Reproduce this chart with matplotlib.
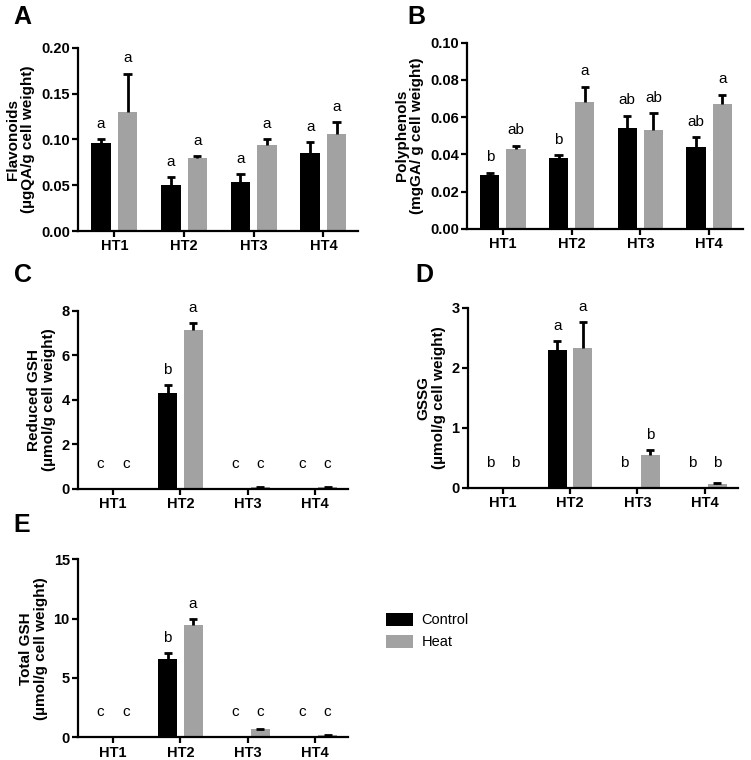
import matplotlib
matplotlib.use('Agg')
import matplotlib.pyplot as plt
from matplotlib.patches import Patch
import numpy as np

plt.rcParams['font.family'] = ['Liberation Sans', 'DejaVu Sans']
plt.rcParams['font.size'] = 10

groups = ['HT1', 'HT2', 'HT3', 'HT4']
series = ['Control', 'Heat']

# panel A - flavonoids
flav_ctrl = [0.096, 0.050, 0.054, 0.085]
flav_ctrl_err = [0.004, 0.009, 0.008, 0.012]
flav_heat = [0.130, 0.080, 0.094, 0.106]
flav_heat_err = [0.042, 0.002, 0.006, 0.013]
flav_letters = [['a', 'a', 'a', 'a'], ['a', 'a', 'a', 'a']]

# panel B - polyphenols
poly_ctrl = [0.029, 0.038, 0.054, 0.044]
poly_ctrl_err = [0.0012, 0.0016, 0.0067, 0.0052]
poly_heat = [0.043, 0.068, 0.053, 0.067]
poly_heat_err = [0.0016, 0.0082, 0.009, 0.005]
poly_letters = [['b', 'b', 'ab', 'ab'], ['ab', 'a', 'ab', 'a']]

# panel C - reduced GSH
rgsh_ctrl = [0.0, 4.29, 0.0, 0.0]
rgsh_ctrl_err = [0.0, 0.37, 0.0, 0.0]
rgsh_heat = [0.0, 7.16, 0.07, 0.07]
rgsh_heat_err = [0.0, 0.30, 0.02, 0.02]
rgsh_letters = [['c', 'b', 'c', 'c'], ['c', 'a', 'c', 'c']]

# panel D - GSSG
gssg_ctrl = [0.0, 2.29, 0.01, 0.0]
gssg_ctrl_err = [0.0, 0.15, 0.0, 0.0]
gssg_heat = [0.0, 2.33, 0.54, 0.067]
gssg_heat_err = [0.0, 0.43, 0.09, 0.016]
gssg_letters = [['b', 'a', 'b', 'b'], ['b', 'a', 'b', 'b']]

# panel E - total GSH
tgsh_ctrl = [0.0, 6.59, 0.05, 0.0]
tgsh_ctrl_err = [0.0, 0.53, 0.0, 0.0]
tgsh_heat = [0.0, 9.50, 0.67, 0.17]
tgsh_heat_err = [0.0, 0.50, 0.06, 0.03]
tgsh_letters = [['c', 'b', 'c', 'c'], ['c', 'a', 'c', 'c']]

colors = ['#000000', '#a2a2a2']

fig = plt.figure(figsize=(7.51, 7.6), dpi=100)

def panel(rect, ctrl, ctrl_err, heat, heat_err, letters, ymax, step, fmt, ylabel, tag, tagpos):
    ax = fig.add_axes(rect)
    x = np.arange(len(groups))
    w = 0.28
    off = 0.19
    for k, (vals, errs) in enumerate([(ctrl, ctrl_err), (heat, heat_err)]):
        vals = np.array(vals)
        errs = np.array(errs)
        xs = x + (k * 2 - 1) * off
        ax.bar(xs, vals, width=w, color=colors[k], zorder=2)
        top = vals + errs
        m = errs > 0
        ax.vlines(xs[m], vals[m], top[m], color='black', lw=2, zorder=3)
        ax.hlines(top[m], xs[m] - 0.06, xs[m] + 0.06, color='black', lw=2, zorder=3)
        for xi, t, lab in zip(xs, top, letters[k]):
            yl = max(t + 0.045 * ymax, 0.1 * ymax)
            ax.text(xi, yl, lab, ha='center', va='bottom', fontsize=11)
    ax.set_xlim(-0.52, 3.5)
    ax.set_ylim(0, ymax)
    ax.set_yticks(np.arange(0, ymax + step / 2, step))
    ax.set_yticklabels([fmt.format(v) for v in np.arange(0, ymax + step / 2, step)],
                       fontweight='bold', fontsize=10.5)
    ax.set_xticks(x)
    ax.set_xticklabels(groups, fontweight='bold', fontsize=10.5)
    ax.spines['top'].set_visible(False)
    ax.spines['right'].set_visible(False)
    ax.spines['left'].set_linewidth(1.6)
    ax.spines['bottom'].set_linewidth(1.6)
    ax.tick_params(axis='both', width=1.6, length=4, pad=2)
    ax.set_ylabel(ylabel, fontweight='bold', fontsize=11, linespacing=1.1)
    fig.text(tagpos[0], tagpos[1], tag, fontsize=18, fontweight='bold', va='center', ha='left')
    return ax

panel([0.104, 0.696, 0.373, 0.241], flav_ctrl, flav_ctrl_err, flav_heat, flav_heat_err,
      flav_letters, 0.20, 0.05, '{:.2f}', 'Flavonoids\n(µgQA/g cell weight)', 'A', (0.018, 0.978))
panel([0.622, 0.699, 0.368, 0.245], poly_ctrl, poly_ctrl_err, poly_heat, poly_heat_err,
      poly_letters, 0.10, 0.02, '{:.2f}', 'Polyphenols\n(mgGA/ g cell weight)', 'B', (0.543, 0.978))
panel([0.104, 0.357, 0.36, 0.234], rgsh_ctrl, rgsh_ctrl_err, rgsh_heat, rgsh_heat_err,
      rgsh_letters, 8, 2, '{:.0f}', 'Reduced GSH\n(µmol/g cell weight)', 'C', (0.018, 0.638))
panel([0.623, 0.358, 0.36, 0.237], gssg_ctrl, gssg_ctrl_err, gssg_heat, gssg_heat_err,
      gssg_letters, 3, 1, '{:.0f}', 'GSSG\n(µmol/g cell weight)', 'D', (0.553, 0.638))
panel([0.104, 0.030, 0.36, 0.234], tgsh_ctrl, tgsh_ctrl_err, tgsh_heat, tgsh_heat_err,
      tgsh_letters, 15, 5, '{:.0f}', 'Total GSH\n(µmol/g cell weight)', 'E', (0.018, 0.309))

handles = [Patch(facecolor=colors[0], edgecolor='none', label=series[0]),
           Patch(facecolor=colors[1], edgecolor='none', label=series[1])]
fig.legend(handles=handles, loc='upper left', bbox_to_anchor=(0.497, 0.211), frameon=False,
           handlelength=1.8, handleheight=1.0, fontsize=10.5, labelspacing=0.5, handletextpad=0.6)

fig.savefig('out.png', dpi=100)
